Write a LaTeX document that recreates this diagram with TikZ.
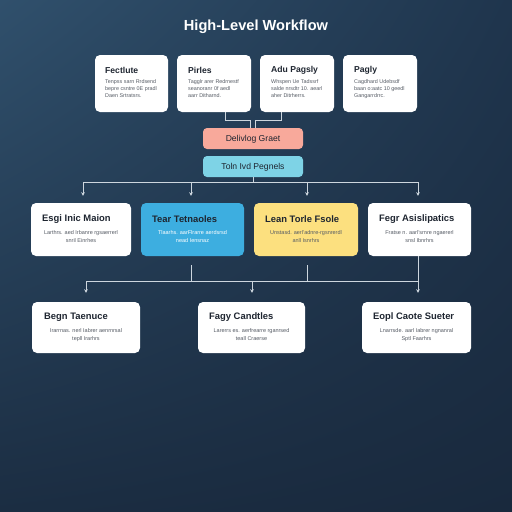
\documentclass[tikz,border=0pt]{standalone}
\usepackage{fontspec}
\setmainfont{Liberation Sans}
\usetikzlibrary{arrows.meta,calc,shadings}
\definecolor{bgUL}{HTML}{30506C}
\definecolor{bgUR}{HTML}{1F354D}
\definecolor{bgLL}{HTML}{1B2D42}
\definecolor{bgLR}{HTML}{19293D}
\definecolor{conncol}{HTML}{CDD6DE}
\definecolor{titlecol}{HTML}{1E2530}
\definecolor{desccol}{HTML}{555B64}
\definecolor{pinkfill}{HTML}{F8A99B}
\definecolor{cyanfill}{HTML}{7ED3E6}
\definecolor{bluefill}{HTML}{3DAEE0}
\definecolor{yellowfill}{HTML}{FCE07F}
\tikzset{
  card/.style={draw=none, fill=white, rounded corners=5pt, inner sep=0pt},
  cardtitle/.style={anchor=west, inner sep=0pt, text=titlecol, font=\fontsize{8.6}{10}\selectfont\bfseries},
  bigtitle/.style={anchor=west, inner sep=0pt, text=titlecol, font=\fontsize{9.4}{11}\selectfont\bfseries},
  desc/.style={inner sep=0pt, text=desccol, font=\fontsize{5.4}{7}\selectfont},
  desctwo/.style={inner sep=0pt, text=desccol, font=\fontsize{5.5}{8}\selectfont},
  pill/.style={draw=none, rounded corners=4pt, minimum width=100pt, minimum height=21pt, inner sep=0pt, text height=6.2pt, text depth=0.6pt, text=titlecol, font=\fontsize{8.6}{10}\selectfont},
  conn/.style={draw=conncol, line width=0.9pt},
  arr/.style={conn, -{Stealth[length=3.6pt,width=3.6pt]}},
}
\begin{document}
\begin{tikzpicture}[x=1pt,y=-1pt]
\useasboundingbox (0,0) rectangle (512,512);
\shade[upper left=bgUL, upper right=bgUR, lower left=bgLL, lower right=bgLR] (0,0) rectangle (512,512);

\node[text=white, font=\fontsize{14.6}{16}\selectfont\bfseries] (title) at (256,27) {High-Level Workflow};

% top row
\node[card, minimum width=73pt, minimum height=57pt] (a1) at (131.5,83.5) {};
\node[card, minimum width=74pt, minimum height=57pt] (a2) at (214,83.5) {};
\node[card, minimum width=74pt, minimum height=57pt] (a3) at (297,83.5) {};
\node[card, minimum width=74pt, minimum height=57pt] (a4) at (380,83.5) {};
\node[cardtitle] (a1t) at (105,70) {Fectlute};
\node[cardtitle] (a2t) at (188,70) {Pirles};
\node[cardtitle] (a3t) at (271,70) {Adu Pagsly};
\node[cardtitle] (a4t) at (354,70) {Pagly};
\node[desc, anchor=north west, align=left] (a1d) at (105,79) {Tenpss sarn Rrdsend\\bepre csntre 0E pradl\\Daen Srtratsrs.};
\node[desc, anchor=north west, align=left] (a2d) at (188,79) {Tagglr arer Redrnestf\\seanoranr 0f aedl\\aarr Ditharnd.};
\node[desc, anchor=north west, align=left] (a3d) at (271,79) {Whspen Ue Tadssrf\\salde nrsdtr 10. aearl\\aher Ditrherrs.};
\node[desc, anchor=north west, align=left] (a4d) at (354,79) {Cagdhard Udebsdf\\baan o:aatc 10 geedl\\Gangarrdrrc.};

% middle pills
\node[pill, fill=pinkfill] (pink) at (253,138.5) {Delivlog Graet};
\node[pill, fill=cyanfill] (cyan) at (253,166.5) {Toln Ivd Pegnels};

\coordinate (m2) at (225,120);
\coordinate (m3) at (281,120);
\draw[conn] (a2.south -| m2) -- (m2) -- (m2 -| 250.5,0) -- ([xshift=-2.5pt]pink.north);
\draw[conn] (a3.south -| m3) -- (m3) -- (m3 -| 255.5,0) -- ([xshift=2.5pt]pink.north);

% second row
\node[card, minimum width=100pt, minimum height=53pt] (b1) at (81,229.5) {};
\node[card, fill=bluefill, minimum width=103pt, minimum height=53pt] (b2) at (192.5,229.5) {};
\node[card, fill=yellowfill, minimum width=104pt, minimum height=53pt] (b3) at (306,229.5) {};
\node[card, minimum width=103pt, minimum height=53pt] (b4) at (419.5,229.5) {};
\node[bigtitle] (b1t) at (42,219) {Esgi Inic Maion};
\node[bigtitle] (b2t) at (152,219) {Tear Tetnaoles};
\node[bigtitle] (b3t) at (265,219) {Lean Torle Fsole};
\node[bigtitle] (b4t) at (379,219) {Fegr Asislipatics};
\node[desctwo, anchor=north, align=center] (b1d) at (81,230.5) {Larthrs. aed Irbanre rgsaerrerl\\snril Einrhes};
\node[desctwo, anchor=north, align=center, text=white] (b2d) at (192.5,230.5) {Tlaarhs. aarFlrarre aerdsrsd\\nead Iensnaz};
\node[desctwo, anchor=north, align=center] (b3d) at (306,230.5) {Unstasd. aerl'adnre-rgsnrerdl\\anll Isnrhrs};
\node[desctwo, anchor=north, align=center] (b4d) at (419.5,230.5) {Fratse n. aarl'srnre ngaererl\\snsl Ibnrhrs};

% bus 1
\coordinate (j1) at (83,182);
\coordinate (j2) at (191,182);
\coordinate (j3) at (307,182);
\coordinate (j4) at (418,182);
\draw[conn] (cyan.south) -- (cyan.south |- j1);
\draw[conn] (j1) -- (j4);
\draw[arr, shorten >=7pt] (j1) -- (j1 |- b1.north);
\draw[arr, shorten >=7pt] (j2) -- (j2 |- b2.north);
\draw[arr, shorten >=7pt] (j3) -- (j3 |- b3.north);
\draw[arr, shorten >=7pt] (j4) -- (j4 |- b4.north);

% third row
\node[card, minimum width=108pt, minimum height=51pt] (c1) at (86,327.5) {};
\node[card, minimum width=107pt, minimum height=51pt] (c2) at (251.5,327.5) {};
\node[card, minimum width=109pt, minimum height=51pt] (c3) at (416.5,327.5) {};
\node[bigtitle] (c1t) at (44,317) {Begn Taenuce};
\node[bigtitle] (c2t) at (209,317) {Fagy Candtles};
\node[bigtitle] (c3t) at (373,317) {Eopl Caote Sueter};
\node[desctwo, anchor=north, align=center] (c1d) at (86,328.3) {Irarrnas. nerl Iabrer aenrnrsal\\tepll Irarhrs};
\node[desctwo, anchor=north, align=center] (c2d) at (251.5,328.3) {Larerrs es. aerfrearre rganrsed\\teall Craerse};
\node[desctwo, anchor=north, align=center] (c3d) at (416.5,328.3) {Lnarrsde. aarl Iabrer ngnanral\\Sptl Faarhrs};

% bus 2
\coordinate (k1) at (86,281);
\coordinate (k2) at (191,281);
\coordinate (k3) at (252,281);
\coordinate (k4) at (307,281);
\coordinate (k5) at (418,281);
\draw[conn] ([yshift=-9pt]b2.south -| k2) -- (k2);
\draw[conn] ([yshift=-9pt]b3.south -| k4) -- (k4);
\draw[conn] (b4.south -| k5) -- (k5);
\draw[conn] (k1) -- (k5);
\draw[arr, shorten >=9pt] (k1) -- (k1 |- c1.north);
\draw[arr, shorten >=9pt] (k3) -- (k3 |- c2.north);
\draw[arr, shorten >=9pt] (k5) -- (k5 |- c3.north);
\end{tikzpicture}
\end{document}
